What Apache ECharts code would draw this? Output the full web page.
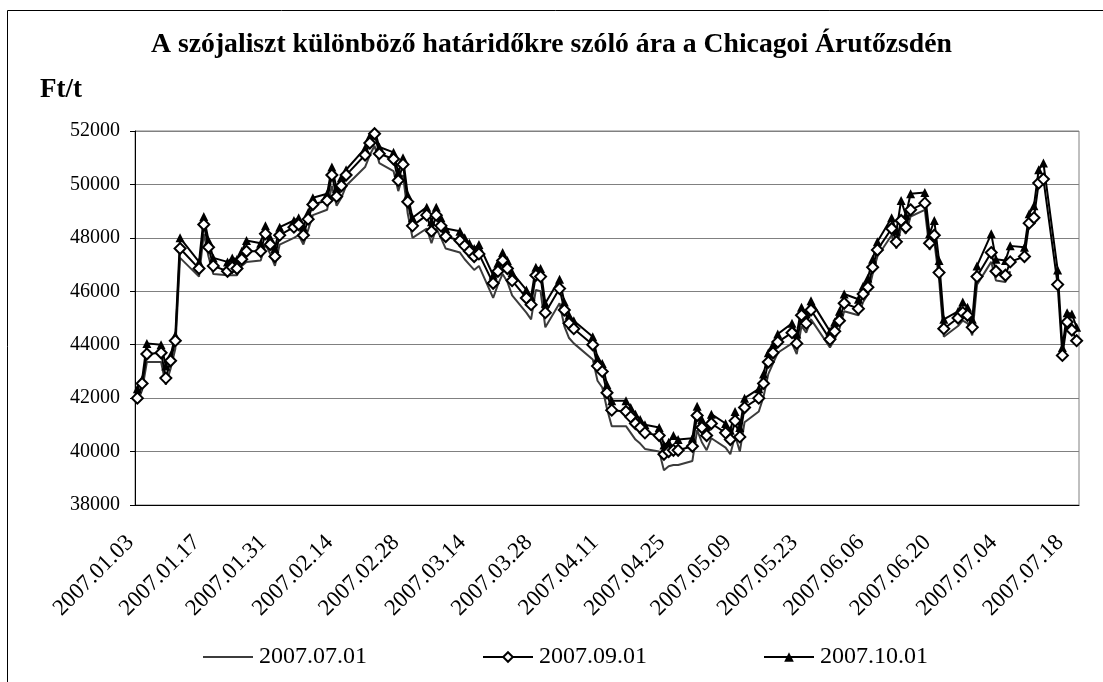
<!DOCTYPE html>
<html><head><meta charset="utf-8">
<script src="https://cdn.jsdelivr.net/npm/echarts@6/dist/echarts.min.js"></script>
<style>html,body{margin:0;padding:0;background:#fff}#c{width:1103px;height:682px}</style>
</head><body><div id="c"></div>
<script>
const tradeDates = [
"2007.01.03","2007.01.04","2007.01.05","2007.01.08","2007.01.09","2007.01.10","2007.01.11","2007.01.12","2007.01.16","2007.01.17","2007.01.18","2007.01.19","2007.01.22","2007.01.23","2007.01.24","2007.01.25","2007.01.26","2007.01.29","2007.01.30","2007.01.31",
"2007.02.01","2007.02.02","2007.02.05","2007.02.06","2007.02.07","2007.02.08","2007.02.09","2007.02.12","2007.02.13","2007.02.14","2007.02.15","2007.02.16","2007.02.20","2007.02.21","2007.02.22","2007.02.23","2007.02.26","2007.02.27","2007.02.28",
"2007.03.01","2007.03.02","2007.03.05","2007.03.06","2007.03.07","2007.03.08","2007.03.09","2007.03.12","2007.03.13","2007.03.14","2007.03.15","2007.03.16","2007.03.19","2007.03.20","2007.03.21","2007.03.22","2007.03.23","2007.03.26","2007.03.27","2007.03.28","2007.03.29","2007.03.30",
"2007.04.02","2007.04.03","2007.04.04","2007.04.05","2007.04.09","2007.04.10","2007.04.11","2007.04.12","2007.04.13","2007.04.16","2007.04.17","2007.04.18","2007.04.19","2007.04.20","2007.04.23","2007.04.24","2007.04.25","2007.04.26","2007.04.27","2007.04.30",
"2007.05.01","2007.05.02","2007.05.03","2007.05.04","2007.05.07","2007.05.08","2007.05.09","2007.05.10","2007.05.11","2007.05.14","2007.05.15","2007.05.16","2007.05.17","2007.05.18","2007.05.21","2007.05.22","2007.05.23","2007.05.24","2007.05.25","2007.05.29","2007.05.30","2007.05.31",
"2007.06.01","2007.06.04","2007.06.05","2007.06.06","2007.06.07","2007.06.08","2007.06.11","2007.06.12","2007.06.13","2007.06.14","2007.06.15","2007.06.18","2007.06.19","2007.06.20","2007.06.21","2007.06.22","2007.06.25","2007.06.26","2007.06.27","2007.06.28","2007.06.29",
"2007.07.02","2007.07.03","2007.07.05","2007.07.06","2007.07.09","2007.07.10","2007.07.11","2007.07.12","2007.07.13","2007.07.16","2007.07.17","2007.07.18","2007.07.19","2007.07.20"
];
const seriesNames = ["2007.07.01","2007.09.01","2007.10.01"];
const s0701 = [
41850,42300,43350,43350,42500,43100,43850,47250,46550,48150,47300,46650,46600,46600,46600,46950,47100,47150,47750,47400,
46950,47750,48000,48100,47750,48300,48850,49050,49950,49200,49500,49950,50650,51100,51450,50800,50500,49750,50350,
48900,48000,48350,47800,48350,48000,47600,47450,47200,47000,46800,46950,45750,46250,46650,46350,45850,45200,44950,46050,46000,44650,
45550,44700,44250,44050,43450,42650,42400,41600,40950,40950,40700,40450,40300,40100,40000,39300,39450,39500,39500,39650,
40800,40350,40050,40500,40150,39900,40600,40000,41100,41500,42050,42900,43300,43700,44050,43650,44700,44450,44950,43900,44200,44600,
45250,45100,45600,45900,46650,47300,48100,47600,48400,48150,48800,49050,47550,47850,46450,44300,44700,44900,44800,44350,46250,
47100,46400,46350,46750,null,null,null,null,null,null,null,null,null,null
];
const s0901 = [
42000,42550,43650,43700,42750,43400,44150,47600,46850,48500,47650,46950,46750,46900,46850,47200,47500,47500,48150,47750,
47300,48100,48400,48500,48100,48700,49250,49400,50350,49550,49950,50350,51100,51550,51900,51150,50950,50150,50750,
49350,48450,48850,48250,48850,48450,48050,47900,47700,47500,47300,47400,46300,46750,47150,46850,46400,45750,45500,46600,46550,45200,
46100,45300,44800,44600,44000,43200,43000,42200,41550,41500,41300,41050,40900,40700,40600,39900,40000,40050,40050,40200,
41350,40900,40600,41050,40700,40450,41150,40550,41650,42000,42550,43350,43700,44100,44450,44050,45100,44800,45300,44200,44500,44900,
45550,45350,45900,46150,46900,47550,48350,47850,48650,48400,49050,49300,47800,48100,46700,44600,45000,45200,45100,44650,46550,
47450,46750,46600,47100,47300,48550,48750,50050,50200,46250,43600,44850,44550,44150
];
const s1001 = [
42350,42700,44050,44000,43200,43600,44350,48000,47100,48800,47900,47250,47100,47250,47200,47500,47900,47800,48450,48000,
47600,48400,48650,48750,48400,48950,49500,49650,50650,49850,50250,50550,51350,51800,52050,51400,51200,50450,51000,
49600,48750,49150,48600,49150,48750,48350,48250,48000,47800,47600,47750,46600,47050,47450,47150,46700,46050,45800,46900,46850,45550,
46450,45600,45100,44900,44300,43500,43300,42500,41900,41900,41650,41400,41200,41000,40900,40250,40350,40600,40450,40500,
41700,41200,40950,41400,41050,40800,41500,40900,42000,42350,42900,43700,44000,44400,44800,44400,45400,45150,45650,44500,44850,45250,
45900,45700,46200,46500,47200,47850,48750,48250,49400,48850,49650,49700,48150,48650,47150,44950,45250,45600,45400,44950,46950,
48150,47200,47150,47700,47650,48900,49200,50550,50800,46800,43900,45200,45150,44650
];
const yTicks = {min: 38000, max: 52000, step: 2000};
const titleText = "A szójaliszt különböző határidőkre szóló ára a Chicagoi Árutőzsdén";
const unitText = "Ft/t";

// calendar-day category axis (Excel date axis)
function fmt(d){const m=d.getUTCMonth()+1, dd=d.getUTCDate();return d.getUTCFullYear()+"."+(m<10?"0":"")+m+"."+(dd<10?"0":"")+dd;}
function parse(s){const p=s.split(".");return new Date(Date.UTC(+p[0],+p[1]-1,+p[2]));}
const days=[];
for(let d=parse(tradeDates[0]); d<=parse(tradeDates[tradeDates.length-1]); d=new Date(d.getTime()+86400000)) days.push(fmt(d));
function align(vals){const m={};tradeDates.forEach((t,i)=>{m[t]=vals[i];});return days.map(d=>(d in m && m[d]!=null)?m[d]:null);}

const FONT="'Liberation Serif','Times New Roman',serif";
const chart=echarts.init(document.getElementById('c'),null,{renderer:'canvas'});
const legendBase={top:645,padding:0,itemWidth:50,itemHeight:12,itemGap:10,textStyle:{fontFamily:FONT,fontSize:24,color:'#000',padding:[0,0,0,1]},selectedMode:false};
chart.setOption({
  animation:false,
  backgroundColor:'#fff',
  title:{text:titleText,left:'center',top:26,textStyle:{fontFamily:FONT,fontSize:27.7,fontWeight:'bold',color:'#000'}},
  graphic:[
    {type:'rect',shape:{x:7.5,y:10.5,width:1200,height:800},style:{fill:null,stroke:'#000',lineWidth:1},silent:true},
    {type:'text',left:40,top:77,style:{text:unitText,font:"bold 27px 'Liberation Serif'",fill:'#000'}}
  ],
  legend:[
    Object.assign({},legendBase,{left:202,data:[seriesNames[0]],itemStyle:{opacity:0}}),
    Object.assign({},legendBase,{left:482,data:[seriesNames[1]]}),
    Object.assign({},legendBase,{left:763,data:[seriesNames[2]]})
  ],
  grid:{left:135,right:24,top:131,bottom:177,show:true,borderColor:'#808080',borderWidth:1,backgroundColor:'#fff'},
  xAxis:{type:'category',data:days,boundaryGap:true,
    axisLine:{lineStyle:{color:'#000',width:1}},
    axisTick:{interval:13,length:5,lineStyle:{color:'#000'}},
    axisLabel:{interval:13,rotate:45,margin:27,padding:[0,10,0,0],fontFamily:FONT,fontSize:23,color:'#000'},
    splitLine:{show:false}},
  yAxis:{type:'value',min:yTicks.min,max:yTicks.max,interval:yTicks.step,
    axisLine:{show:true,lineStyle:{color:'#000',width:1}},
    axisTick:{show:true,length:5,lineStyle:{color:'#000'}},
    axisLabel:{margin:15,fontFamily:FONT,fontSize:20,color:'#000',formatter:v=>String(v)},
    splitLine:{lineStyle:{color:'#808080',width:1}}},
  series:[
    {name:seriesNames[0],type:'line',data:align(s0701),connectNulls:true,symbol:'none',
      lineStyle:{color:'#3c3c3c',width:2},itemStyle:{color:'#3c3c3c'},z:2},
    {name:seriesNames[2],type:'line',data:align(s1001),connectNulls:true,symbol:'triangle',symbolSize:9,showAllSymbol:true,
      lineStyle:{color:'#000',width:2},itemStyle:{color:'#000'},z:3},
    {name:seriesNames[1],type:'line',data:align(s0901),connectNulls:true,symbol:'diamond',symbolSize:11,showAllSymbol:true,
      lineStyle:{color:'#000',width:2},itemStyle:{color:'#fff',borderColor:'#000',borderWidth:2},z:4}
  ]
});
</script></body></html>
